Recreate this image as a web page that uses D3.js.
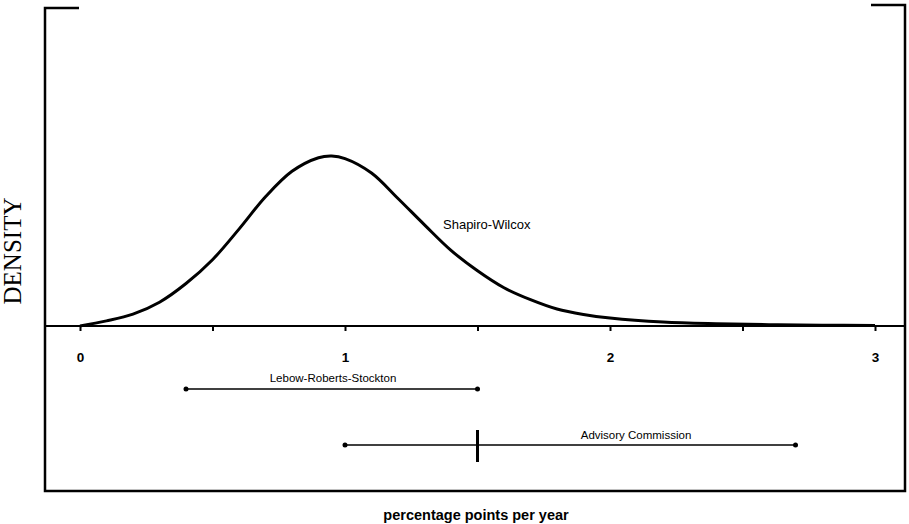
<!DOCTYPE html>
<html>
<head>
<meta charset="utf-8">
<script src="https://cdn.jsdelivr.net/npm/d3@7"></script>
<style>
  body { margin: 0; background: #fff; }
  svg { display: block; }
</style>
</head>
<body>
<div id="chart"></div>
<script>
// Shapiro-Wilcox density (relative height, peak = 1)
const rate = [0, 0.1, 0.2, 0.3, 0.4, 0.5, 0.6, 0.7, 0.8, 0.9, 0.95, 1.0, 1.1, 1.2, 1.3, 1.4, 1.5, 1.6, 1.7, 1.8, 1.9, 2.0, 2.2, 2.4, 2.6, 2.8, 3.0];
const density = [0.0, 0.03, 0.07, 0.14, 0.25, 0.39, 0.57, 0.76, 0.91, 0.99, 1.0, 0.985, 0.9, 0.75, 0.595, 0.445, 0.325, 0.225, 0.155, 0.1, 0.068, 0.047, 0.023, 0.013, 0.008, 0.005, 0.003];

const tickValues = [0, 0.5, 1, 1.5, 2, 2.5, 3];

// interval estimates
const intervalNames = ["Lebow-Roberts-Stockton", "Advisory Commission"];
const intervalLow = [0.4, 1.0];
const intervalHigh = [1.5, 2.7];
const intervalMark = [null, 1.5];

const width = 909, height = 524;
const svg = d3.select("#chart").append("svg")
  .attr("width", width)
  .attr("height", height);

const x = d3.scaleLinear().domain([0, 3]).range([80, 875]);
const y = d3.scaleLinear().domain([0, 1]).range([326, 156]);

// frame
const frame = svg.append("g").attr("fill", "none").attr("stroke", "#000").attr("stroke-width", 2.5);
frame.append("path").attr("d", "M79,8H45V491H905V5H871");

// baseline
svg.append("line")
  .attr("x1", 45).attr("x2", 905)
  .attr("y1", y(0)).attr("y2", y(0))
  .attr("stroke", "#000").attr("stroke-width", 2);

// axis ticks
const axis = d3.axisBottom(x)
  .tickValues(tickValues)
  .tickSize(5)
  .tickPadding(21)
  .tickFormat(d => Number.isInteger(d) ? d : "");

const gx = svg.append("g")
  .attr("transform", `translate(0,${y(0)})`)
  .call(axis);
gx.select(".domain").remove();
gx.selectAll(".tick line").attr("stroke-width", 2);
gx.selectAll(".tick text")
  .attr("font-family", "Liberation Sans, Arial, sans-serif")
  .attr("font-size", 13.5)
  .attr("font-weight", "bold")
  .attr("fill", "#000");

// density curve
const line = d3.line()
  .x((d, i) => x(rate[i]))
  .y(d => y(d))
  .curve(d3.curveCatmullRom.alpha(0.5));

svg.append("path")
  .datum(density)
  .attr("d", line)
  .attr("fill", "none")
  .attr("stroke", "#000")
  .attr("stroke-width", 3);

svg.append("text")
  .attr("x", 443).attr("y", 229)
  .attr("font-family", "Liberation Sans, Arial, sans-serif")
  .attr("font-size", 13)
  .attr("fill", "#000")
  .text("Shapiro-Wilcox");

// intervals
const rowY = [389, 445];
const labelPos = [{ x: 333, y: 382 }, { x: 636, y: 439 }];

intervalNames.forEach((name, i) => {
  const g = svg.append("g");
  g.append("line")
    .attr("x1", x(intervalLow[i])).attr("x2", x(intervalHigh[i]))
    .attr("y1", rowY[i]).attr("y2", rowY[i])
    .attr("stroke", "#000").attr("stroke-width", 1.5);
  g.selectAll("circle")
    .data([intervalLow[i], intervalHigh[i]])
    .join("circle")
    .attr("cx", d => x(d))
    .attr("cy", rowY[i])
    .attr("r", 2.5)
    .attr("fill", "#000");
  if (intervalMark[i] !== null) {
    g.append("line")
      .attr("x1", x(intervalMark[i])).attr("x2", x(intervalMark[i]))
      .attr("y1", rowY[i] - 15).attr("y2", rowY[i] + 17)
      .attr("stroke", "#000").attr("stroke-width", 3);
  }
  g.append("text")
    .attr("x", labelPos[i].x).attr("y", labelPos[i].y)
    .attr("text-anchor", "middle")
    .attr("font-family", "Liberation Sans, Arial, sans-serif")
    .attr("font-size", 11.5)
    .attr("fill", "#000")
    .text(name);
});

// axis titles
svg.append("text")
  .attr("transform", "translate(21,251) rotate(-90)")
  .attr("text-anchor", "middle")
  .attr("font-family", "Liberation Serif, Times New Roman, serif")
  .attr("font-size", 25)
  .attr("fill", "#000")
  .text("DENSITY");

svg.append("text")
  .attr("x", 476).attr("y", 520)
  .attr("text-anchor", "middle")
  .attr("font-family", "Liberation Sans, Arial, sans-serif")
  .attr("font-size", 14.5)
  .attr("font-weight", "bold")
  .attr("fill", "#000")
  .text("percentage points per year");
</script>
</body>
</html>
